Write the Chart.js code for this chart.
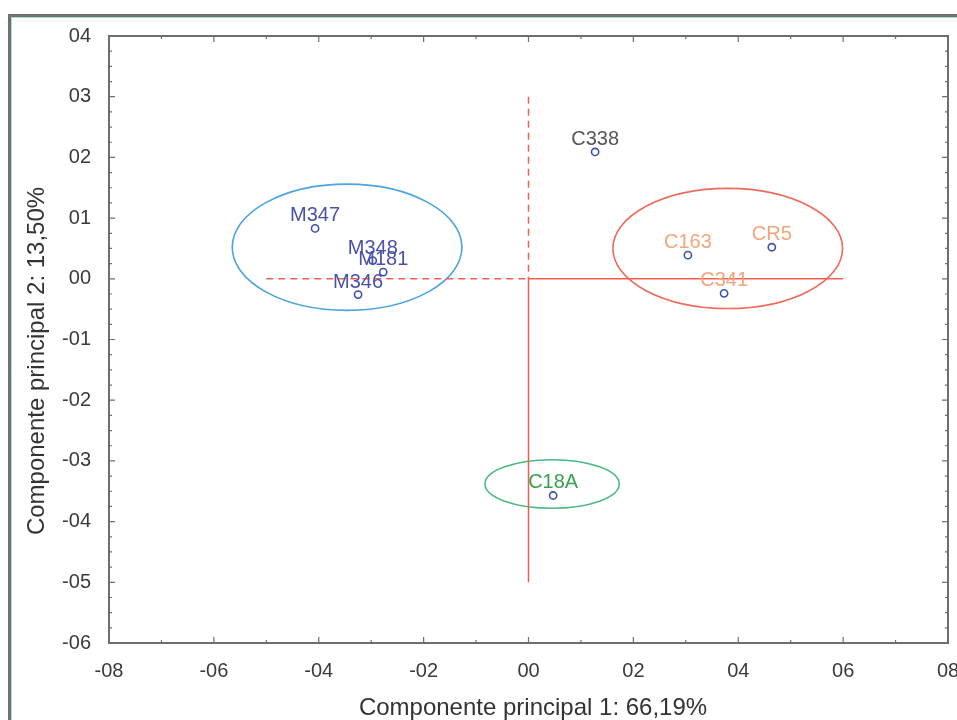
<!DOCTYPE html>
<html>
<head>
<meta charset="utf-8">
<script src="https://cdn.jsdelivr.net/npm/chart.js@4.4.0/dist/chart.umd.min.js"></script>
<style>
  html, body { margin: 0; padding: 0; background: #fff; overflow: hidden; }
  #wrap { width: 957px; height: 720px; position: relative; }
</style>
</head>
<body>
<div id="wrap"><canvas id="chartCanvas" width="957" height="720"></canvas></div>
<script>
// samples and their scores on the two principal components
var sampleNames = ["M347", "M348", "M181", "M346", "C338", "C163", "CR5", "C341", "C18A"];
var pc1Values = [-0.407, -0.297, -0.277, -0.325, 0.127, 0.304, 0.464, 0.373, 0.047];
var pc2Values = [0.083, 0.030, 0.011, -0.026, 0.209, 0.039, 0.052, -0.024, -0.357];
var labelColors = ["#4a52a8", "#4a52a8", "#4a52a8", "#4a52a8", "#555555", "#f4a57c", "#f4a57c", "#f4a57c", "#3aa050"];

// group ellipses (centre and half axes, in data units)
var ellipseCenterX = [-0.346, 0.380, 0.045];
var ellipseCenterY = [0.052, 0.050, -0.338];
var ellipseRadiusX = [0.219, 0.219, 0.128];
var ellipseRadiusY = [0.104, 0.099, 0.040];
var ellipseColors = ["#4ba3df", "#ee6a5c", "#4cba80"];

// red reference cross
var dashedVertical = [{ x: 0, y: 0.3 }, { x: 0, y: 0 }];
var solidVertical = [{ x: 0, y: 0 }, { x: 0, y: -0.5 }];
var dashedHorizontal = [{ x: -0.5, y: 0 }, { x: 0, y: 0 }];
var solidHorizontal = [{ x: 0, y: 0 }, { x: 0.6, y: 0 }];

// tick values
var xTicks = [-0.8, -0.6, -0.4, -0.2, 0, 0.2, 0.4, 0.6, 0.8];
var yTicks = [-0.6, -0.5, -0.4, -0.3, -0.2, -0.1, 0, 0.1, 0.2, 0.3, 0.4];

var xTitle = "Componente principal 1: 66,19%";
var yTitle = "Componente principal 2: 13,50%";

var fontFamily = "'Liberation Sans', Arial, sans-serif";

function tickLabel(v) {
    var n = Math.round(v * 10);
    var s = String(Math.abs(n));
    if (s.length < 2) s = "0" + s;
    return (n < 0 ? "-" : "") + s;
}

var points = [];
for (var i = 0; i < sampleNames.length; i++) {
    points.push({ x: pc1Values[i], y: pc2Values[i] });
}

var decorPlugin = {
    id: "decor",
    beforeDraw: function (chart) {
        var ctx = chart.ctx;
        ctx.save();
        ctx.fillStyle = "#fff";
        ctx.fillRect(0, 0, chart.width, chart.height);
        // outer frame of the figure
        ctx.strokeStyle = "#707070";
        ctx.lineWidth = 3;
        ctx.beginPath();
        ctx.moveTo(9.5, 800);
        ctx.lineTo(9.5, 15.5);
        ctx.lineTo(1000, 15.5);
        ctx.stroke();
        ctx.strokeStyle = "#a6e0c6";
        ctx.lineWidth = 1;
        ctx.beginPath();
        ctx.moveTo(11.5, 800);
        ctx.lineTo(11.5, 17.5);
        ctx.lineTo(1000, 17.5);
        ctx.stroke();
        ctx.restore();
    },
    beforeDatasetsDraw: function (chart) {
        var ctx = chart.ctx;
        var xs = chart.scales.x, ys = chart.scales.y;
        ctx.save();
        ctx.lineWidth = 1.6;
        for (var i = 0; i < ellipseCenterX.length; i++) {
            var cx = xs.getPixelForValue(ellipseCenterX[i]);
            var cy = ys.getPixelForValue(ellipseCenterY[i]);
            var rx = xs.getPixelForValue(ellipseCenterX[i] + ellipseRadiusX[i]) - cx;
            var ry = cy - ys.getPixelForValue(ellipseCenterY[i] + ellipseRadiusY[i]);
            ctx.strokeStyle = ellipseColors[i];
            ctx.beginPath();
            ctx.ellipse(cx, cy, rx, ry, 0, 0, Math.PI * 2);
            ctx.stroke();
        }
        ctx.restore();
    },
    afterDatasetsDraw: function (chart) {
        var ctx = chart.ctx;
        var xs = chart.scales.x, ys = chart.scales.y;
        var area = chart.chartArea;
        ctx.save();
        // point labels
        var meta = chart.getDatasetMeta(0);
        ctx.font = "20px " + fontFamily;
        ctx.textAlign = "center";
        ctx.textBaseline = "alphabetic";
        meta.data.forEach(function (el, i) {
            ctx.fillStyle = labelColors[i];
            ctx.fillText(sampleNames[i], el.x, el.y - 7);
        });

        // plot box
        ctx.strokeStyle = "#6e6e6e";
        ctx.lineWidth = 2;
        ctx.strokeRect(area.left, area.top, area.right - area.left, area.bottom - area.top);

        // inward ticks on all four sides
        ctx.lineWidth = 1.2;
        ctx.beginPath();
        for (var i = 0; i < xTicks.length; i++) {
            var px = xs.getPixelForValue(xTicks[i]);
            ctx.moveTo(px, area.bottom); ctx.lineTo(px, area.bottom - 6);
            ctx.moveTo(px, area.top); ctx.lineTo(px, area.top + 6);
            if (i < xTicks.length - 1) {
                var mx = xs.getPixelForValue((xTicks[i] + xTicks[i + 1]) / 2);
                ctx.moveTo(mx, area.bottom); ctx.lineTo(mx, area.bottom - 3);
                ctx.moveTo(mx, area.top); ctx.lineTo(mx, area.top + 3);
            }
        }
        for (var j = 0; j < yTicks.length; j++) {
            var py = ys.getPixelForValue(yTicks[j]);
            ctx.moveTo(area.left, py); ctx.lineTo(area.left + 6, py);
            ctx.moveTo(area.right, py); ctx.lineTo(area.right - 6, py);
            if (j < yTicks.length - 1) {
                for (var k = 1; k < 4; k++) {
                    var my = ys.getPixelForValue(yTicks[j] + (yTicks[j + 1] - yTicks[j]) * k / 4);
                    ctx.moveTo(area.left, my); ctx.lineTo(area.left + 3, my);
                    ctx.moveTo(area.right, my); ctx.lineTo(area.right - 3, my);
                }
            }
        }
        ctx.stroke();
        ctx.restore();
    },
    afterDraw: function (chart) {
        var ctx = chart.ctx;
        ctx.save();
        ctx.fillStyle = "#333";
        ctx.font = "24px " + fontFamily;
        ctx.textAlign = "center";
        ctx.textBaseline = "middle";
        ctx.fillText(xTitle, 533, 708);
        ctx.translate(37, 361);
        ctx.rotate(-Math.PI / 2);
        ctx.fillText(yTitle, 0, 0);
        ctx.restore();
    }
};

var refLine = {
    type: "line",
    borderColor: "#f0604f",
    borderWidth: 1.5,
    pointRadius: 0,
    fill: false,
    order: 2
};

var ctx = document.getElementById("chartCanvas");
var pcaChart = new Chart(ctx, {
    type: "scatter",
    data: {
        datasets: [
            {
                data: points,
                pointRadius: 3.6,
                pointBorderWidth: 1.6,
                pointBorderColor: "#3b4fb0",
                pointBackgroundColor: "#ffffff",
                order: 0
            },
            Object.assign({ data: dashedVertical, borderDash: [7, 5] }, refLine),
            Object.assign({ data: solidVertical }, refLine),
            Object.assign({ data: dashedHorizontal, borderDash: [7, 5] }, refLine),
            Object.assign({ data: solidHorizontal }, refLine)
        ]
    },
    options: {
        responsive: false,
        animation: false,
        layout: { padding: { top: 36, right: 9, left: 0, bottom: 0 } },
        plugins: {
            legend: { display: false },
            tooltip: { enabled: false }
        },
        scales: {
            x: {
                type: "linear",
                min: -0.8,
                max: 0.8,
                afterBuildTicks: function (s) {
                    s.ticks = xTicks.map(function (v) { return { value: v }; });
                },
                afterFit: function (s) {
                    s.height = 77;
                    // let the last label run off the canvas like in the original
                    s.paddingRight = 0;
                },
                grid: { display: false },
                border: { display: false },
                ticks: {
                    callback: tickLabel,
                    autoSkip: false,
                    maxRotation: 0,
                    padding: 8,
                    color: "#3a3a3a",
                    font: { family: fontFamily, size: 20 }
                }
            },
            y: {
                type: "linear",
                min: -0.6,
                max: 0.4,
                afterBuildTicks: function (s) {
                    s.ticks = yTicks.map(function (v) { return { value: v }; });
                },
                afterFit: function (s) { s.width = 109; },
                grid: { display: false },
                border: { display: false },
                ticks: {
                    callback: tickLabel,
                    autoSkip: false,
                    padding: 10,
                    color: "#3a3a3a",
                    font: { family: fontFamily, size: 20 }
                }
            }
        }
    },
    plugins: [decorPlugin]
});
</script>
</body>
</html>
